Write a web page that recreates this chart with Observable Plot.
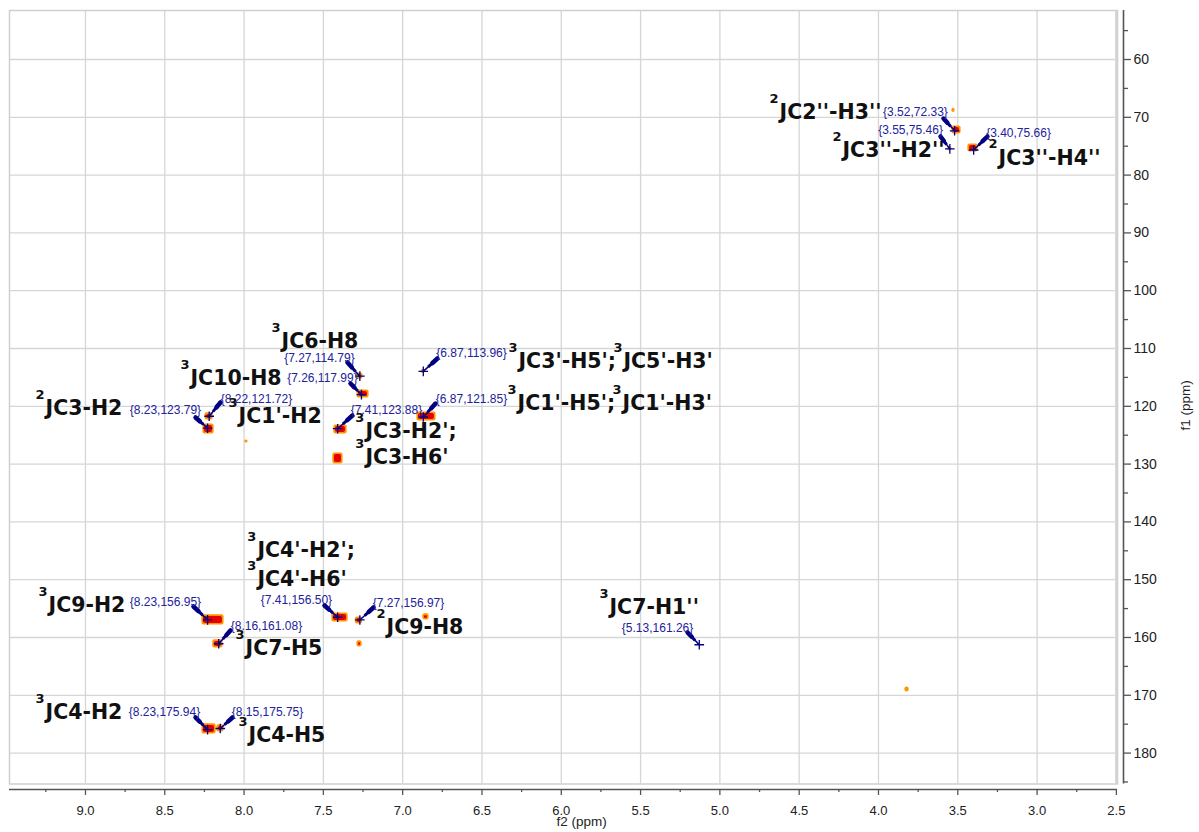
<!DOCTYPE html>
<html><head><meta charset="utf-8">
<script src="https://cdn.jsdelivr.net/npm/d3@7"></script>
<script src="https://cdn.jsdelivr.net/npm/@observablehq/plot@0.6"></script>
<style>body{margin:0;background:#fff;} svg{display:block}</style>
</head><body><div id="chart"></div>
<script>
// ---- axis ticks ----
const xMajorTicks = [9.0, 8.5, 8.0, 7.5, 7.0, 6.5, 6.0, 5.5, 5.0, 4.5, 4.0, 3.5, 3.0, 2.5];
const xMinorTicks = [9.25, 8.75, 8.25, 7.75, 7.25, 6.75, 6.25, 5.75, 5.25, 4.75, 4.25, 3.75, 3.25, 2.75];
const yMajorTicks = [60, 70, 80, 90, 100, 110, 120, 130, 140, 150, 160, 170, 180];
const yMinorTicks = [55, 65, 75, 85, 95, 105, 115, 125, 135, 145, 155, 165, 175, 185];

// ---- picked peaks (f2 = 1H ppm, f1 = 13C ppm) ----
const peakLabels = ["{3.52,72.33}","{3.55,75.46}","{3.40,75.66}","{7.27,114.79}","{7.26,117.99}","{6.87,113.96}","{6.87,121.85}","{8.23,123.79}","{8.22,121.72}","{7.41,123.88}","{8.23,156.95}","{8.16,161.08}","{7.41,156.50}","{7.27,156.97}","{5.13,161.26}","{8.23,175.94}","{8.15,175.75}"];
const peakF2 = [3.52,3.55,3.40,7.27,7.26,6.87,6.87,8.23,8.22,7.41,8.23,8.16,7.41,7.27,5.13,8.23,8.15];
const peakF1 = [72.33,75.46,75.66,114.79,117.99,113.96,121.85,123.79,121.72,123.88,156.95,161.08,156.50,156.97,161.26,175.94,175.75];
// label anchor (centre of the {..} text) and arrow tail, in ppm
const tagF2 = [3.767,3.798,3.117,7.525,7.506,6.566,6.566,8.496,7.922,7.102,8.496,7.859,7.670,6.963,5.393,8.502,7.852];
const tagF1 = [69.17,72.28,72.80,111.73,115.19,110.87,118.82,120.73,118.82,120.73,153.94,158.10,153.60,154.12,158.44,172.98,172.98];
const tailF2 = [3.590,3.609,3.313,7.348,7.329,6.781,6.793,8.306,8.149,7.317,8.319,8.086,7.493,7.184,5.204,8.306,8.073];
const tailF1 = [70.21,73.32,73.32,112.42,116.06,111.73,119.52,121.94,119.34,121.59,154.64,158.79,154.46,154.81,159.13,173.84,173.84];

// ---- coupling assignments ----
const couplingText = ["JC2''-H3''","JC3''-H2''","JC3''-H4''","JC6-H8","JC10-H8","JC1'-H2","JC3-H2';","JC3-H6'","JC3-H2","JC3'-H5';","JC5'-H3'","JC1'-H5';","JC1'-H3'","JC4'-H2';","JC4'-H6'","JC9-H2","JC7-H5","JC9-H8","JC4-H2","JC4-H5","JC7-H1''"];
const couplingSup = ["2","2","2","3","3","3","3","3","2","3","3","3","3","3","3","3","3","2","3","3","3"];
const couplingF2 = [4.624,4.227,3.243,7.764,8.338,8.035,7.235,7.235,9.252,6.270,5.608,6.276,5.614,7.916,7.916,9.233,7.991,7.102,9.252,7.972,5.696];
const couplingF1 = [69.17,75.74,77.04,108.79,115.19,121.76,124.36,128.86,120.38,112.25,112.25,119.52,119.52,144.95,149.97,154.46,161.90,158.27,172.98,176.96,154.81];

// ---- cross peak contours: centre, extent (ppm), intensity ----
const crossF2 = [3.508,3.527,3.55,3.404,7.27,7.250,6.87,6.850,8.221,8.224,7.392,7.408,7.985,8.196,8.165,7.395,7.276,6.853,7.272,3.820,8.221,8.149];
const crossF1 = [72.2,68.8,75.46,75.31,114.79,117.87,113.96,121.76,121.76,123.93,124.01,129.03,126.09,156.97,161.12,156.54,157.06,156.45,161.12,169.0,175.83,175.74];
const crossW  = [0.050,0.013,0.019,0.057,0.032,0.069,0.019,0.113,0.044,0.063,0.076,0.057,0.013,0.132,0.057,0.095,0.038,0.032,0.025,0.019,0.082,0.038];
const crossH  = [1.21,0.52,0.52,1.21,0.87,1.21,0.52,1.38,1.04,1.56,1.38,1.73,0.35,1.56,1.21,1.38,1.04,0.87,0.87,0.69,1.56,1.04];
const crossStrong = [1,0,1,1,1,1,0,1,1,1,1,1,0,1,1,1,1,1,1,0,1,1];

// ---- build tables ----
const peaks = peakLabels.map((t, i) => ({label: t, x: peakF2[i], y: peakF1[i], tx: tagF2[i], ty: tagF1[i], ax: tailF2[i], ay: tailF1[i]}));
const seg = f => peaks.map(p => ({x1: p.ax, y1: p.ay, x2: p.ax + f * (p.x - p.ax), y2: p.ay + f * (p.y - p.ay)}));
const couplings = couplingText.map((t, i) => ({text: t, sup: couplingSup[i], x: couplingF2[i], y: couplingF1[i]}));
const cross = crossF2.map((x, i) => ({x, y: crossF1[i], w: crossW[i], h: crossH[i], strong: crossStrong[i]}));
const strong = cross.filter(d => d.strong);

const navy = "#000080";
const blue = "#22229c";
const axisCol = "#555";

const chart = Plot.plot({
  width: 1199,
  height: 832,
  marginLeft: 9,
  marginRight: 82,
  marginTop: 10,
  marginBottom: 48.5,
  style: {fontFamily: "Liberation Sans, Arial, sans-serif", fontSize: "13px", color: "#222", background: "#fff"},
  x: {domain: [9.479, 2.493]},
  y: {domain: [51.52, 185.35], reverse: true},
  marks: [
    Plot.gridX(xMajorTicks, {stroke: "#d6d6d6", strokeOpacity: 1, strokeWidth: 1.3}),
    Plot.gridY(yMajorTicks, {stroke: "#d6d6d6", strokeOpacity: 1, strokeWidth: 1.3}),
    Plot.frame({stroke: "#cfcfcf", strokeWidth: 1.5}),
    Plot.ruleX([2.493], {stroke: "#d8d8d8", dx: -2}),
    // axes
    Plot.ruleY([185.35], {stroke: axisCol, strokeWidth: 1.6, dy: 5.5}),
    Plot.ruleX([2.493], {stroke: axisCol, strokeWidth: 1.6, dx: 6}),
    Plot.axisX(xMajorTicks, {anchor: "bottom", tickSize: 6, tickPadding: 10, dy: 5.5, stroke: axisCol, strokeWidth: 1.3, tickFormat: d => d.toFixed(1), label: null, fill: "#222"}),
    Plot.axisX(xMinorTicks, {anchor: "bottom", tickSize: 3, dy: 5.5, stroke: axisCol, strokeWidth: 1.3, tickFormat: () => "", label: null}),
    Plot.axisY(yMajorTicks, {anchor: "right", tickSize: 7, tickPadding: 3, dx: 6, stroke: axisCol, strokeWidth: 1.3, label: null, fill: "#222", fontSize: 14}),
    Plot.axisY(yMinorTicks, {anchor: "right", tickSize: 4, dx: 6, stroke: axisCol, strokeWidth: 1.3, tickFormat: () => "", label: null}),
    Plot.text(["f2 (ppm)"], {text: d => d, frameAnchor: "bottom", dy: 42, dx: 18, fontSize: 13.5, fill: "#222"}),
    Plot.text(["f1 (ppm)"], {text: d => d, frameAnchor: "right", dx: 68, dy: -17, rotate: -90, fontSize: 13.5, fill: "#222"}),
    // cross peaks
    Plot.rect(cross, {x1: d => d.x + d.w / 2, x2: d => d.x - d.w / 2, y1: d => d.y - d.h / 2, y2: d => d.y + d.h / 2, fill: "#ff9600", inset: -0.6, rx: 2}),
    Plot.rect(strong, {x1: d => d.x + d.w / 2, x2: d => d.x - d.w / 2, y1: d => d.y - d.h / 2, y2: d => d.y + d.h / 2, fill: "#e30000", inset: 1, rx: 2}),
    // arrows
    Plot.link(peaks, {x1: "ax", y1: "ay", x2: "x", y2: "y", stroke: navy, strokeWidth: 1.6}),
    Plot.link(seg(0.65), {x1: "x1", y1: "y1", x2: "x2", y2: "y2", stroke: navy, strokeWidth: 3}),
    Plot.link(seg(0.35), {x1: "x1", y1: "y1", x2: "x2", y2: "y2", stroke: navy, strokeWidth: 4.5, strokeLinecap: "round"}),
    Plot.dot(peaks, {x: "x", y: "y", symbol: "plus", r: 3.2, stroke: navy, strokeWidth: 1.3}),
    Plot.text(peaks, {x: "tx", y: "ty", text: "label", fill: blue, fontSize: 12, fontFamily: "Liberation Sans, Arial, sans-serif"}),
    // coupling labels
    Plot.text(couplings, {x: "x", y: "y", text: "text", textAnchor: "start", fontSize: 20.5, fontWeight: "bold", fill: "#111", fontFamily: "DejaVu Sans, sans-serif"}),
    Plot.text(couplings, {x: "x", y: "y", text: "sup", textAnchor: "end", dx: -1, dy: -14, fontSize: 13, fontWeight: "bold", fill: "#111", fontFamily: "DejaVu Sans, sans-serif"})
  ]
});
document.getElementById("chart").append(chart);
</script>
</body></html>
